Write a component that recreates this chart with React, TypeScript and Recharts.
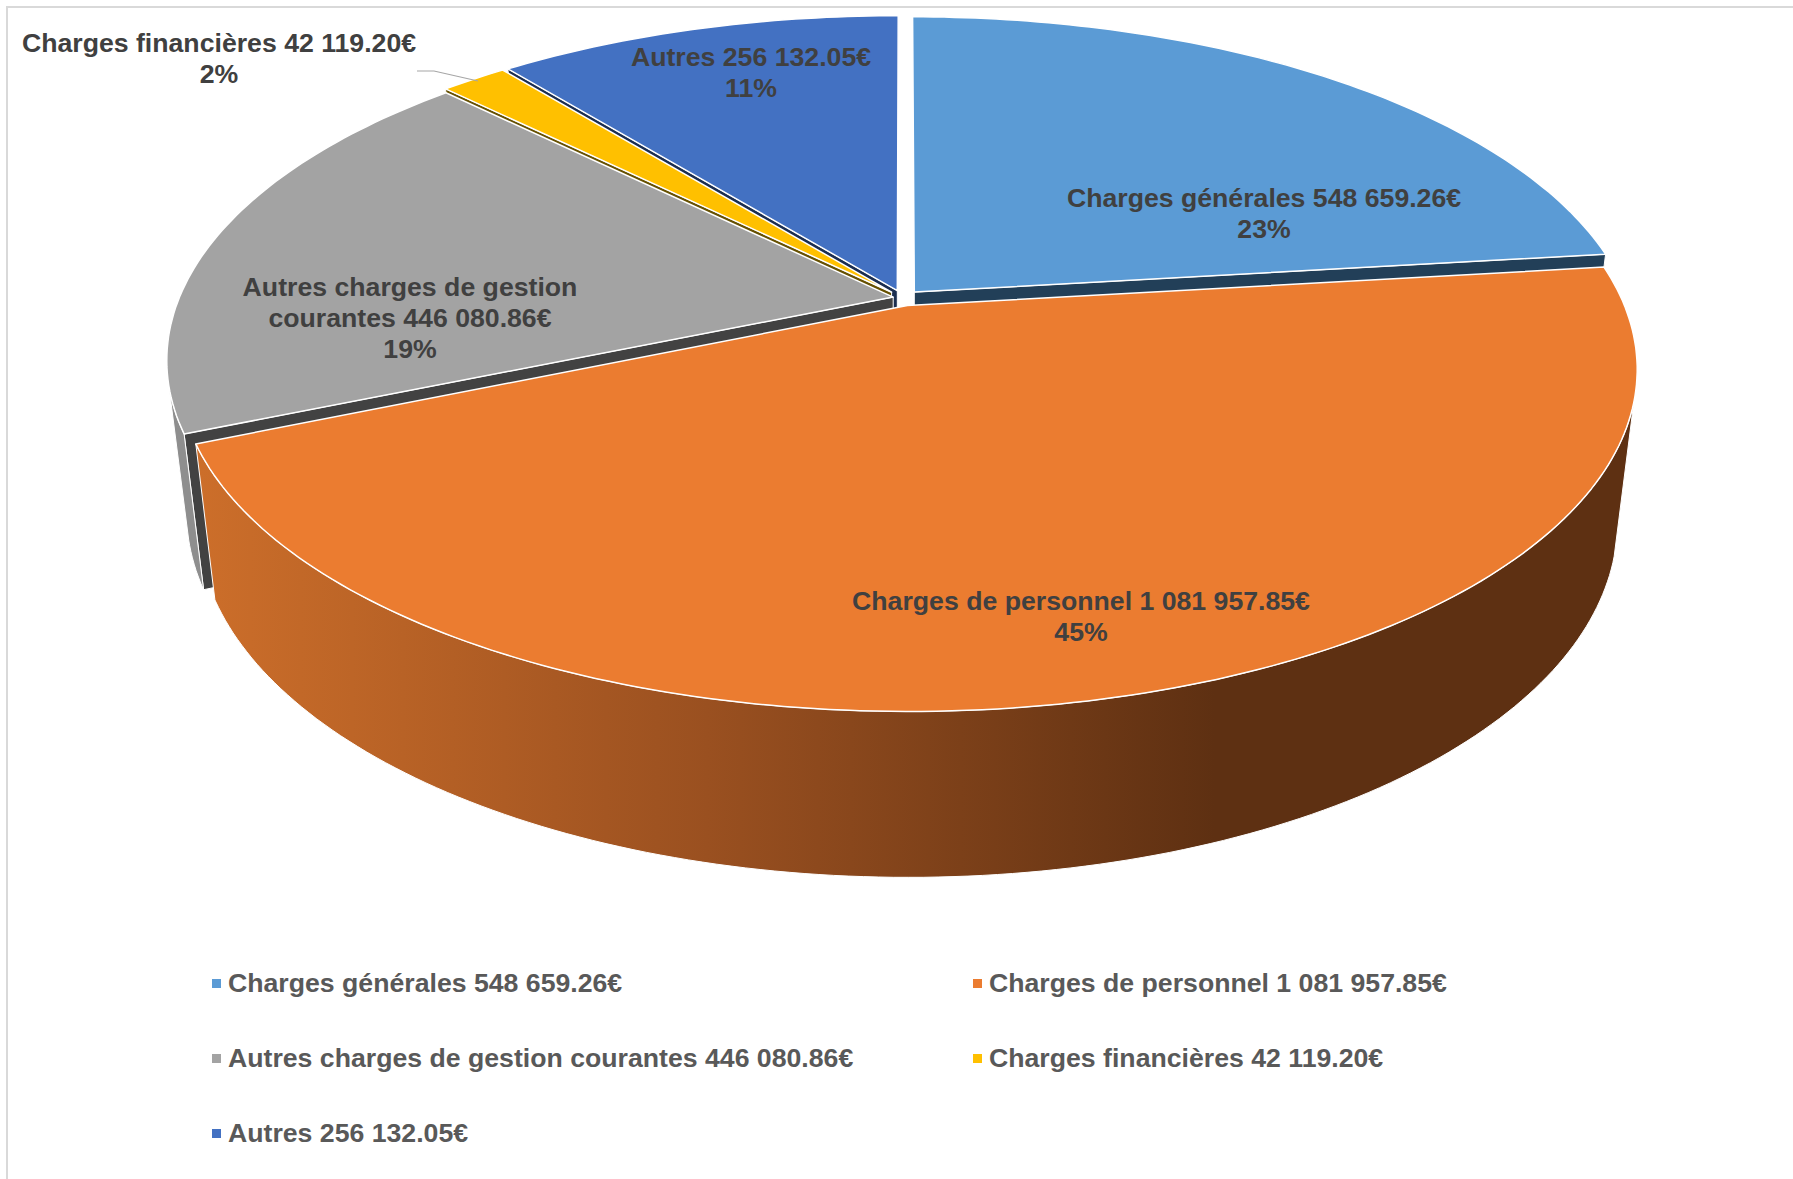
import { PieChart, Pie, Legend } from 'recharts'

const CATEGORIES = ['Charges générales', 'Charges de personnel', 'Autres charges de gestion courantes', 'Charges financières', 'Autres']
const VALUES = [548659.26, 1081957.85, 446080.86, 42119.2, 256132.05]
const VALUE_LABELS = ['548 659.26€', '1 081 957.85€', '446 080.86€', '42 119.20€', '256 132.05€']
const PERCENT_LABELS = ['23%', '45%', '19%', '2%', '11%']
const COLORS = ['#5B9BD5', '#EB7C30', '#A3A3A3', '#FFC000', '#4371C2']
const FACE_COLORS = ['#223F58', '#5F3214', '#424242', '#665000', '#1B2E50']

const data = CATEGORIES.map((c, i) => ({
  name: `${c} ${VALUE_LABELS[i]}`,
  value: VALUES[i],
  fill: COLORS[i],
  face: FACE_COLORS[i],
}))
// same slices the other way round, so the cut sides paint back to front
const reversedData = [...data].reverse()

const WIDTH = 1793
const HEIGHT = 1179
const CX = 903
const CY = 298
const RADIUS = 714

// perspective of the disc, fitted by eye against the reference
const TILT = 328 / 714
const PERSPECTIVE = 0.184
const EXPLODE = 0.024
const EXPLODE_GRAY = 0.014
const WALL_FROM = 106
const WALL_TO = 255

const rad = (deg: number) => (deg * Math.PI) / 180

function project(clock: number, r: number, mid: number, R: number, explode: number) {
  const u = r * Math.sin(rad(clock)) + explode * Math.sin(rad(mid))
  const v = -r * Math.cos(rad(clock)) - explode * Math.cos(rad(mid))
  const w = 1 - PERSPECTIVE * v
  return { x: CX + (R * u) / w, y: CY + (R * TILT * v) / w }
}

// same point on the bottom of the disc
const lower = (p: { x: number; y: number }) => ({
  x: CX + 0.973 * (p.x - CX),
  y: CY + 150.6 + 1.037 * (p.y - CY),
})

function arc(from: number, to: number, mid: number, R: number, explode: number) {
  const pts = []
  for (let a = from; a < to; a += 1) pts.push(project(a, 1, mid, R, explode))
  pts.push(project(to, 1, mid, R, explode))
  return pts
}

const toPath = (pts: { x: number; y: number }[]) =>
  'M' + pts.map(p => `${p.x.toFixed(1)},${p.y.toFixed(1)}`).join('L') + 'Z'

// recharts angles to degrees clockwise from the top, whichever way the pie runs
function clockOf(props: any) {
  const a = 90 - props.startAngle
  const b = 90 - props.endAngle
  let from = Math.min(a, b)
  let to = Math.max(a, b)
  if (from < 0) {
    from += 360
    to += 360
  }
  return { from, to, mid: (from + to) / 2, explode: props.fill === COLORS[2] ? EXPLODE_GRAY : EXPLODE }
}

function TopShape(props: any) {
  const { from, to, mid, explode } = clockOf(props)
  const pts = [project(0, 0, mid, props.outerRadius, explode), ...arc(from, to, mid, props.outerRadius, explode)]
  return <path d={toPath(pts)} fill={props.fill} stroke="#fff" strokeWidth={1.5} strokeLinejoin="round" />
}

function WallShape(props: any) {
  const { from, to, mid, explode } = clockOf(props)
  const a = Math.max(from, WALL_FROM)
  const b = Math.min(to, WALL_TO)
  if (a >= b) return null
  const top = arc(a, b, mid, props.outerRadius, explode)
  const pts = [...top, ...top.map(lower).reverse()]
  const fill = props.fill === COLORS[1] ? 'url(#orangeWall)' : '#8E8E8E'
  return <path d={toPath(pts)} fill={fill} stroke="#fff" strokeWidth={1} strokeLinejoin="round" />
}

// cut side of a slice, only where it faces the viewer
function FaceShape(props: any) {
  const { from, to, mid, explode } = clockOf(props)
  let edge = -1
  if (to <= 180) edge = to
  else if (from >= 180) edge = from
  if (edge < 0) return null
  const apex = project(0, 0, mid, props.outerRadius, explode)
  const corner = project(edge, 1, mid, props.outerRadius, explode)
  return (
    <path
      d={toPath([apex, corner, lower(corner), lower(apex)])}
      fill={props.face}
      stroke="#fff"
      strokeWidth={1}
    />
  )
}

const LABEL_X = [1264, 1081, 410, 219, 751]
const LABEL_Y = [200, 603, 289, 45, 59]

const labelFont = {
  fontFamily: '"Liberation Sans", Arial, sans-serif',
  fontSize: 26.67,
  fontWeight: 700,
  fill: '#404040',
}

function SliceLabel({ index }: any) {
  const lines = [`${CATEGORIES[index]} ${VALUE_LABELS[index]}`, PERCENT_LABELS[index]]
  if (index === 2) {
    lines.splice(0, 1, 'Autres charges de gestion', `courantes ${VALUE_LABELS[index]}`)
  }
  return (
    <g>
      {index === 3 && <polyline points="417,71 434,71 478,81" fill="none" stroke="#A6A6A6" strokeWidth={1.2} />}
      <text textAnchor="middle" dominantBaseline="middle" {...labelFont}>
        {lines.map((line, i) => (
          <tspan key={i} x={LABEL_X[index]} y={LABEL_Y[index] + i * 31}>
            {line}
          </tspan>
        ))}
      </text>
    </g>
  )
}

function LegendRows({ payload }: any) {
  const rows = data.map(d => (payload || []).find((p: any) => p.value === d.name)).filter(Boolean)
  return (
    <div
      style={{
        display: 'grid',
        gridTemplateColumns: '761px 1fr',
        rowGap: 45,
        fontFamily: '"Liberation Sans", Arial, sans-serif',
        fontSize: 26.67,
        lineHeight: '30px',
        fontWeight: 700,
        color: '#595959',
      }}
    >
      {rows.map((item: any) => (
        <div key={item.value} style={{ display: 'flex', alignItems: 'center' }}>
          <span style={{ width: 9, height: 9, background: item.color, marginRight: 7 }} />
          {item.value}
        </div>
      ))}
    </div>
  )
}

export default function App() {
  const pieProps = {
    dataKey: 'value',
    nameKey: 'name',
    cx: CX,
    cy: CY,
    innerRadius: 0,
    outerRadius: RADIUS,
    stroke: 'none',
    isAnimationActive: false,
  }
  return (
    <div style={{ position: 'absolute', left: 0, top: 0, width: WIDTH, height: HEIGHT, background: '#fff', overflow: 'hidden' }}>
      <div
        style={{
          position: 'absolute',
          left: 6,
          top: 6,
          right: 0,
          bottom: 0,
          borderLeft: '2px solid #D9D9D9',
          borderTop: '2px solid #D9D9D9',
        }}
      />
      <PieChart width={WIDTH} height={HEIGHT} margin={{ top: 0, right: 0, bottom: 0, left: 0 }}>
        <defs>
          <linearGradient id="orangeWall" gradientUnits="userSpaceOnUse" x1={200} y1={0} x2={1215} y2={0}>
            <stop offset="0%" stopColor="#CC6E2A" />
            <stop offset="50%" stopColor="#9A5020" />
            <stop offset="100%" stopColor="#5E3012" />
          </linearGradient>
        </defs>
        <Pie {...pieProps} data={reversedData} startAngle={90} endAngle={450} legendType="none" shape={FaceShape} />
        <Pie {...pieProps} data={data} startAngle={90} endAngle={-270} legendType="none" shape={WallShape} />
        <Pie {...pieProps} data={data} startAngle={90} endAngle={-270} shape={TopShape} label={SliceLabel} labelLine={false} />
        <Legend content={LegendRows} wrapperStyle={{ left: 212, top: 968, width: 1400 }} />
      </PieChart>
    </div>
  )
}
